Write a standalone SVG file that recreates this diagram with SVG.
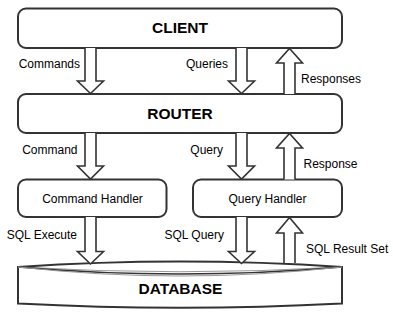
<svg xmlns="http://www.w3.org/2000/svg" width="393" height="315" viewBox="0 0 393 315">
  <style>
    .box { fill: #ffffff; stroke: #333333; stroke-width: 2; }
    .title { font-family: "Liberation Sans", Arial, sans-serif; font-size: 15.5px; font-weight: bold; fill: #000000; text-anchor: middle; }
    .name { font-family: "Liberation Sans", Arial, sans-serif; font-size: 12px; fill: #000000; text-anchor: middle; }
    .lbl { font-family: "Liberation Sans", Arial, sans-serif; font-size: 12px; fill: #000000; }
    .lbl-r { text-anchor: end; }
    .arrow { fill: #ffffff; stroke: #333333; stroke-width: 1.6; stroke-linejoin: miter; }
    .rim { fill: none; stroke: #333333; stroke-width: 1.6; }
    .rim-soft { fill: none; stroke: #999999; stroke-width: 1; }
  </style>

  <g id="client">
    <rect class="box" x="18" y="8.5" width="324" height="39.5" rx="8" ry="8"/>
    <text class="title" x="180" y="33">CLIENT</text>
  </g>

  <g id="router">
    <rect class="box" x="18" y="94" width="324" height="39" rx="8" ry="8"/>
    <text class="title" x="180" y="119">ROUTER</text>
  </g>

  <g id="command-handler">
    <rect class="box" x="18" y="179.5" width="148.5" height="37.5" rx="8" ry="8"/>
    <text class="name" x="92.5" y="202.5">Command Handler</text>
  </g>

  <g id="query-handler">
    <rect class="box" x="193" y="179.5" width="149" height="37.5" rx="8" ry="8"/>
    <text class="name" x="267.5" y="202.5">Query Handler</text>
  </g>

  <g id="database">
    <!-- cylinder body -->
    <path class="box" d="M18,267 Q180,256 342,267 L342,303.5 Q180,312 18,303.5 Z"/>
    <!-- front edge of the top rim -->
    <path class="rim-soft" d="M18,267 Q180,276.5 342,267"/>
    <path class="rim" d="M18,267 Q180,281 342,267"/>
    <path class="rim-soft" d="M18,267 Q180,285 342,267"/>
    <text class="title" x="180.5" y="293.5">DATABASE</text>
  </g>

  <g id="connectors">
    <!-- client to router -->
    <path class="arrow" d="M85,48 L85,81 L77.5,81 L90.5,93.5 L103.5,81 L96,81 L96,48"/>
    <path class="arrow" d="M236,48 L236,81 L228.5,81 L241.5,93.5 L254.5,81 L247,81 L247,48"/>
    <path class="arrow" d="M284,94 L284,63 L276.5,63 L289.5,48.5 L302.5,63 L295,63 L295,94"/>
    <!-- router to handlers -->
    <path class="arrow" d="M85,133 L85,166 L77.5,166 L90.5,179 L103.5,166 L96,166 L96,133"/>
    <path class="arrow" d="M236,133 L236,166 L228.5,166 L241.5,179 L254.5,166 L247,166 L247,133"/>
    <path class="arrow" d="M284,179.5 L284,148 L276.5,148 L289.5,133.5 L302.5,148 L295,148 L295,179.5"/>
    <!-- handlers to database -->
    <path class="arrow" d="M85,217 L85,251.5 L77.5,251.5 L90.5,264 L103.5,251.5 L96,251.5 L96,217"/>
    <path class="arrow" d="M236,217 L236,251.5 L228.5,251.5 L241.5,263.5 L254.5,251.5 L247,251.5 L247,217"/>
    <path class="arrow" d="M284,263 L284,233 L276.5,233 L289.5,217.5 L302.5,233 L295,233 L295,263"/>

    <text class="lbl lbl-r" x="80" y="68">Commands</text>
    <text class="lbl lbl-r" x="228" y="68">Queries</text>
    <text class="lbl" x="301" y="82.5">Responses</text>
    <text class="lbl lbl-r" x="77.5" y="154">Command</text>
    <text class="lbl lbl-r" x="223" y="154">Query</text>
    <text class="lbl" x="303.5" y="168">Response</text>
    <text class="lbl lbl-r" x="77" y="239">SQL Execute</text>
    <text class="lbl lbl-r" x="224" y="239">SQL Query</text>
    <text class="lbl" x="306" y="253">SQL Result Set</text>
  </g>
</svg>
